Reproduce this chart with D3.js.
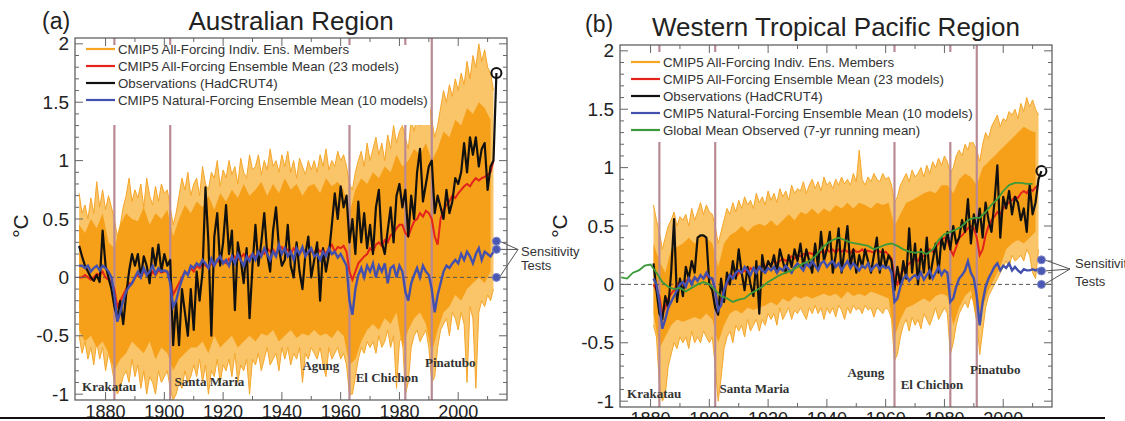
<!DOCTYPE html>
<html>
<head>
<meta charset="utf-8">
<script src="https://cdn.jsdelivr.net/npm/d3@7"></script>
<style>
  body { margin: 0; background: #fff; }
  svg { display: block; }
</style>
</head>
<body>
<svg id="chart" width="1125" height="421"></svg>
<script>
// ---- shared axis values ----
const xDomain = [1869.6, 2016.6];
const yDomain = [-1.05, 2.05];
const xMajorTicks = [1880, 1900, 1920, 1940, 1960, 1980, 2000];
const yMajorTicks = [-1, -0.5, 0, 0.5, 1, 1.5, 2];

const volcanoes = ["Krakatau", "Santa Maria", "Agung", "El Chichon", "Pinatubo"];
const volcanoYears = [1883, 1902, 1963, 1982, 1991];
// label anchor (year, value of baseline)
const volcanoLabelYears = [1872.0, 1903.5, 1947.0, 1965.1, 1988.7];
const volcanoLabelVals = [-0.97, -0.93, -0.79, -0.90, -0.77];

const legendNames = [
  "CMIP5 All-Forcing Indiv. Ens. Members",
  "CMIP5 All-Forcing Ensemble Mean (23 models)",
  "Observations (HadCRUT4)",
  "CMIP5 Natural-Forcing Ensemble Mean (10 models)",
  "Global Mean Observed (7-yr running mean)"
];
const legendColors = ["#F7A623", "#E3231C", "#111111", "#4450AD", "#3C9A3A"];

// ---- (a) Australian Region ----
const obsStartA = 1871, modelStartA = 1871;
const obsA = [
  0.27, 0.18, 0.10, 0.05, 0.00, -0.03, 0.02, -0.04, 0.40, 0.10,
  0.00, -0.10, -0.25, -0.35, -0.20, -0.40, -0.15, 0.05, 0.20, 0.10,
  0.20, 0.00, 0.18, 0.10, -0.05, 0.25, 0.10, 0.28, 0.05, 0.20,
  0.10, 0.15, -0.58, -0.20, -0.58, -0.10, -0.30, -0.50, -0.10, -0.45,
  0.05, -0.20, 0.05, 0.77, 0.30, -0.50, 0.35, 0.55, 0.10, 0.30,
  0.62, 0.20, 0.40, -0.28, 0.30, 0.15, -0.05, 0.25, -0.35, 0.10,
  0.45, 0.10, 0.30, 0.55, 0.20, 0.05, 0.40, 0.60, 0.25, 0.10,
  0.15, 0.45, 0.10, 0.00, 0.30, 0.05, -0.10, 0.20, 0.35, 0.00,
  0.15, 0.30, -0.20, 0.25, 0.05, 0.20, 0.45, 0.72, 0.50, 0.78,
  0.60, 0.70, 0.30, 0.50, 0.20, 0.65, 0.30, 0.55, 0.25, 0.45,
  0.20, 0.60, 0.75, 0.30, 0.20, 0.40, 0.60, 0.30, 0.70, 0.80,
  0.60, 0.75, 0.35, 0.70, 0.50, 0.90, 1.10, 0.65, 0.80, 0.95,
  1.00, 0.55, 0.70, 0.60, 0.50, 0.75, 0.55, 0.65, 0.85, 0.80,
  0.90, 1.15, 0.90, 1.20, 1.05, 1.20, 0.95, 1.10, 1.15, 0.75,
  0.95, 1.00, 1.75
];
const allMeanA = [
  0.00, 0.00, 0.02, 0.00, -0.02, 0.00, 0.03, 0.02, 0.05, 0.00,
  -0.02, -0.05, -0.10, -0.25, -0.20, -0.15, -0.10, -0.05, -0.05, 0.00,
  0.02, 0.00, 0.05, 0.03, 0.00, 0.05, 0.02, 0.06, 0.04, 0.05,
  0.05, 0.00, -0.15, -0.10, -0.05, 0.00, 0.05, 0.03, 0.08, 0.05,
  0.10, 0.08, 0.12, 0.10, 0.08, 0.12, 0.10, 0.15, 0.12, 0.14,
  0.12, 0.16, 0.14, 0.18, 0.15, 0.17, 0.20, 0.15, 0.18, 0.20,
  0.18, 0.20, 0.22, 0.20, 0.25, 0.22, 0.24, 0.20, 0.25, 0.26,
  0.22, 0.24, 0.20, 0.25, 0.22, 0.20, 0.24, 0.22, 0.20, 0.23,
  0.20, 0.25, 0.22, 0.24, 0.20, 0.25, 0.28, 0.22, 0.26, 0.25,
  0.27, 0.22, 0.05, -0.02, 0.05, 0.12, 0.15, 0.18, 0.20, 0.25,
  0.22, 0.28, 0.30, 0.27, 0.32, 0.30, 0.36, 0.38, 0.42, 0.45,
  0.45, 0.38, 0.35, 0.42, 0.48, 0.50, 0.55, 0.52, 0.57, 0.55,
  0.50, 0.35, 0.28, 0.50, 0.58, 0.62, 0.65, 0.70, 0.68, 0.72,
  0.75, 0.78, 0.80, 0.78, 0.82, 0.85, 0.83, 0.85, 0.86, 0.88,
  0.90, 1.00
];
const natMeanA = [
  0.10, 0.10, 0.08, 0.10, 0.05, 0.08, 0.10, 0.06, 0.10, 0.08,
  0.05, 0.00, -0.15, -0.38, -0.30, -0.20, -0.12, -0.08, -0.05, 0.00,
  0.05, 0.00, 0.08, 0.02, 0.05, 0.10, 0.03, 0.08, 0.05, 0.06,
  0.05, -0.05, -0.25, -0.20, -0.10, -0.02, 0.05, 0.02, 0.10, 0.08,
  0.12, 0.10, 0.15, 0.12, 0.08, 0.16, 0.10, 0.15, 0.18, 0.12,
  0.15, 0.10, 0.18, 0.12, 0.20, 0.15, 0.10, 0.18, 0.14, 0.20,
  0.15, 0.22, 0.18, 0.25, 0.20, 0.15, 0.22, 0.18, 0.28, 0.20,
  0.25, 0.18, 0.22, 0.15, 0.25, 0.20, 0.26, 0.18, 0.22, 0.25,
  0.18, 0.20, 0.15, 0.22, 0.18, 0.25, 0.20, 0.22, 0.17, 0.20,
  0.15, 0.10, -0.20, -0.32, -0.10, 0.02, 0.08, 0.00, 0.10, 0.05,
  0.12, 0.00, 0.10, 0.05, 0.12, -0.05, 0.08, 0.10, 0.00, 0.10,
  0.05, -0.12, -0.20, -0.05, 0.02, 0.08, 0.00, 0.10, 0.05, 0.02,
  -0.10, -0.30, -0.15, -0.05, 0.05, 0.10, 0.08, 0.12, 0.15, 0.12,
  0.20, 0.15, 0.22, 0.18, 0.12, 0.20, 0.25, 0.15, 0.22, 0.20,
  0.18, 0.22
];
const ensMaxA = [
  0.72, 0.55, 0.62, 0.50, 0.68, 0.55, 0.82, 0.60, 0.75, 0.58,
  0.70, 0.60, 0.50, 0.35, 0.45, 0.60, 0.70, 0.85, 0.65, 0.75,
  0.68, 0.80, 0.60, 0.85, 0.70, 0.62, 0.78, 0.65, 0.80, 0.72,
  0.75, 0.60, 0.45, 0.55, 0.70, 0.85, 0.75, 0.90, 0.70, 0.80,
  0.85, 0.70, 0.95, 0.80, 0.75, 0.90, 0.85, 1.00, 0.78, 0.92,
  0.85, 1.00, 0.88, 0.95, 0.80, 1.02, 0.90, 0.85, 1.05, 0.92,
  0.95, 1.05, 0.88, 1.00, 0.92, 1.10, 0.95, 1.00, 0.90, 1.05,
  0.95, 1.08, 0.90, 1.00, 0.85, 1.02, 0.95, 0.88, 1.00, 0.92,
  1.00, 0.90, 1.05, 0.95, 1.10, 0.92, 1.00, 0.95, 1.08, 1.00,
  1.05, 0.95, 0.80, 0.75, 0.90, 1.00, 1.08, 0.95, 1.15, 1.00,
  1.10, 1.20, 1.05, 1.15, 1.00, 1.22, 1.10, 1.30, 1.15, 1.25,
  1.30, 1.20, 1.10, 1.35, 1.25, 1.40, 1.30, 1.45, 1.35, 1.50,
  1.35, 1.20, 1.30, 1.45, 1.60, 1.50, 1.65, 1.55, 1.70, 1.60,
  1.75, 1.65, 1.85, 1.70, 1.90, 1.80, 2.00, 1.85, 1.95, 1.80,
  1.75, 1.60
];
const ensMinA = [
  -0.50, -0.65, -0.55, -0.70, -0.60, -0.75, -0.55, -0.70, -0.60, -0.80,
  -0.65, -0.75, -0.90, -1.00, -0.95, -0.85, -0.80, -0.90, -0.70, -0.85,
  -0.75, -0.95, -0.80, -1.00, -0.85, -0.90, -1.00, -0.80, -0.90, -0.85,
  -0.80, -0.95, -1.05, -1.00, -0.90, -0.95, -0.80, -0.90, -0.85, -0.75,
  -0.85, -0.70, -0.90, -0.75, -1.00, -0.80, -0.85, -0.70, -0.90, -0.75,
  -0.80, -0.70, -0.85, -0.65, -0.90, -0.75, -0.80, -0.70, -1.00, -0.70,
  -0.75, -0.65, -0.80, -0.70, -0.60, -0.75, -0.70, -0.65, -0.80, -0.60,
  -0.70, -0.60, -0.75, -0.65, -0.70, -0.60, -0.90, -0.65, -0.70, -0.60,
  -0.65, -0.70, -0.60, -0.75, -0.85, -0.60, -0.70, -0.65, -0.60, -0.70,
  -0.65, -0.75, -1.00, -1.00, -0.85, -0.70, -0.60, -0.65, -0.55, -0.60,
  -0.55, -0.65, -0.50, -0.60, -0.55, -0.45, -0.60, -0.50, -0.95, -0.55,
  -0.50, -1.00, -0.90, -0.60, -0.50, -0.45, -0.55, -0.50, -0.45, -0.60,
  -0.90, -0.85, -0.60, -0.45, -0.40, -0.35, -0.50, -0.30, -0.35, -0.45,
  -0.30, -0.40, -0.90, -0.25, -0.35, -0.95, -0.30, -0.20, -0.25, -0.15,
  -0.20, -0.10
];
// denser core of the ensemble, every second year from 1871
const coreHiA = [
  0.45, 0.38, 0.50, 0.42, 0.55, 0.30, 0.25, 0.45, 0.55, 0.50,
  0.48, 0.60, 0.45, 0.55, 0.50, 0.58, 0.35, 0.50, 0.62, 0.55,
  0.65, 0.60, 0.70, 0.58, 0.72, 0.65, 0.75, 0.68, 0.80, 0.70,
  0.75, 0.82, 0.70, 0.80, 0.72, 0.85, 0.75, 0.80, 0.70, 0.78,
  0.80, 0.72, 0.85, 0.78, 0.82, 0.75, 0.55, 0.75, 0.85, 0.80,
  0.90, 0.85, 0.95, 0.90, 1.05, 0.95, 1.00, 1.10, 1.05, 1.15,
  1.00, 1.10, 1.25, 1.20, 1.35, 1.30, 1.45, 1.40, 1.50, 1.45, 1.35
];
const coreLoA = [
  -0.45, -0.55, -0.50, -0.60, -0.55, -0.65, -0.80, -0.70, -0.65, -0.55,
  -0.60, -0.65, -0.55, -0.70, -0.60, -0.65, -0.80, -0.70, -0.65, -0.60,
  -0.60, -0.55, -0.65, -0.50, -0.60, -0.55, -0.50, -0.60, -0.55, -0.50,
  -0.55, -0.48, -0.50, -0.45, -0.55, -0.50, -0.45, -0.52, -0.48, -0.50,
  -0.45, -0.50, -0.48, -0.52, -0.45, -0.50, -0.75, -0.70, -0.55, -0.45,
  -0.40, -0.45, -0.35, -0.40, -0.30, -0.60, -0.45, -0.35, -0.30, -0.40,
  -0.65, -0.45, -0.30, -0.25, -0.15, -0.20, -0.10, -0.05, 0.00, -0.05, 0.05
];
const sensA = [0.31, 0.24, 0.0];

// ---- (b) Western Tropical Pacific Region ----
const obsStartB = 1881, modelStartB = 1881, globalStartB = 1870;
const obsB = [
  0.18, -0.05, -0.25, -0.30, -0.10, -0.20, 0.10, 0.56, -0.15, 0.05,
  -0.10, 0.15, 0.05, 0.20, 0.10, 0.40, 0.42, 0.42, 0.40, 0.00,
  -0.05, -0.20, -0.26, 0.05, -0.15, 0.10, 0.00, 0.20, 0.05, 0.30,
  0.10, -0.05, 0.15, 0.00, -0.10, 0.20, -0.25, 0.25, 0.10, 0.20,
  0.15, 0.25, 0.10, 0.30, 0.20, 0.10, 0.25, 0.15, 0.30, 0.20,
  0.35, 0.15, 0.30, 0.20, 0.10, 0.35, 0.15, 0.45, 0.20, 0.30,
  0.45, 0.10, 0.25, 0.48, 0.10, 0.30, 0.50, 0.15, 0.30, 0.10,
  0.25, 0.15, 0.30, 0.20, 0.10, 0.25, 0.40, 0.10, 0.30, 0.15,
  0.25, 0.20, -0.05, 0.15, 0.00, 0.20, 0.05, 0.48, 0.10, 0.35,
  0.00, 0.30, 0.10, 0.40, 0.05, 0.20, 0.35, 0.10, 0.40, 0.30,
  0.45, 0.30, 0.50, 0.35, 0.40, 0.55, 0.45, 0.73, 0.35, 0.60,
  0.45, 0.65, 0.40, 0.70, 0.55, 0.45, 0.70, 1.02, 0.40, 0.75,
  0.65, 0.80, 0.60, 0.75, 0.70, 0.55, 0.65, 0.45, 0.85, 0.60,
  0.70, 0.90, 0.97
];
const allMeanB = [
  0.00, -0.05, -0.10, -0.25, -0.20, -0.12, -0.08, -0.05, 0.00, 0.02,
  0.00, 0.03, 0.05, 0.02, 0.06, 0.04, 0.07, 0.05, 0.08, 0.05,
  0.05, -0.05, -0.20, -0.12, -0.05, 0.00, 0.05, 0.08, 0.06, 0.10,
  0.10, 0.12, 0.10, 0.14, 0.12, 0.15, 0.13, 0.16, 0.15, 0.18,
  0.17, 0.20, 0.18, 0.20, 0.22, 0.20, 0.22, 0.24, 0.22, 0.25,
  0.24, 0.26, 0.25, 0.27, 0.26, 0.28, 0.26, 0.28, 0.27, 0.30,
  0.28, 0.30, 0.27, 0.30, 0.28, 0.30, 0.28, 0.27, 0.30, 0.28,
  0.28, 0.30, 0.27, 0.29, 0.28, 0.27, 0.30, 0.28, 0.27, 0.28,
  0.25, 0.22, 0.05, 0.00, 0.08, 0.12, 0.15, 0.18, 0.20, 0.22,
  0.20, 0.25, 0.24, 0.28, 0.30, 0.28, 0.32, 0.35, 0.38, 0.40,
  0.38, 0.30, 0.25, 0.32, 0.40, 0.42, 0.45, 0.48, 0.50, 0.48,
  0.40, 0.25, 0.30, 0.42, 0.50, 0.55, 0.58, 0.62, 0.60, 0.65,
  0.68, 0.70, 0.72, 0.75, 0.74, 0.78, 0.80, 0.78, 0.82, 0.80,
  0.83, 0.85
];
const natMeanB = [
  0.05, 0.00, -0.15, -0.38, -0.30, -0.20, -0.15, -0.10, -0.05, 0.00,
  0.02, -0.02, 0.05, 0.00, 0.06, 0.03, 0.08, 0.05, 0.10, 0.06,
  0.05, -0.05, -0.22, -0.18, -0.05, 0.02, 0.08, 0.05, 0.10, 0.12,
  0.10, 0.15, 0.12, 0.08, 0.14, 0.10, 0.15, 0.12, 0.10, 0.14,
  0.12, 0.15, 0.10, 0.14, 0.12, 0.16, 0.13, 0.10, 0.15, 0.18,
  0.15, 0.12, 0.18, 0.15, 0.20, 0.16, 0.12, 0.18, 0.20, 0.15,
  0.18, 0.20, 0.15, 0.18, 0.12, 0.16, 0.20, 0.14, 0.18, 0.15,
  0.12, 0.16, 0.14, 0.18, 0.12, 0.15, 0.17, 0.13, 0.16, 0.14,
  0.15, 0.10, -0.15, -0.12, -0.02, 0.05, 0.08, 0.03, 0.06, 0.08,
  0.05, 0.10, 0.04, 0.08, 0.12, 0.05, 0.10, 0.15, 0.08, 0.12,
  0.10, -0.15, -0.12, -0.02, 0.05, 0.08, 0.12, 0.20, 0.10, 0.05,
  -0.10, -0.35, -0.15, -0.02, 0.05, 0.10, 0.15, 0.18, 0.12, 0.16,
  0.14, 0.18, 0.12, 0.15, 0.12, 0.10, 0.13, 0.12, 0.12, 0.13,
  0.12, 0.13
];
const ensMaxB = [
  0.68, 0.55, 0.45, 0.30, 0.40, 0.50, 0.55, 0.62, 0.50, 0.58,
  0.55, 0.60, 0.50, 0.65, 0.55, 0.62, 0.70, 0.60, 0.68, 0.62,
  0.60, 0.50, 0.35, 0.45, 0.55, 0.65, 0.60, 0.70, 0.62, 0.72,
  0.65, 0.75, 0.68, 0.72, 0.65, 0.78, 0.70, 0.75, 0.68, 0.80,
  0.72, 0.78, 0.70, 0.82, 0.75, 0.80, 0.72, 0.85, 0.78, 0.82,
  0.80, 0.88, 0.78, 0.85, 0.90, 0.82, 0.88, 0.80, 0.92, 0.85,
  0.88, 0.82, 0.90, 0.85, 0.92, 0.86, 0.90, 0.85, 0.95, 0.88,
  1.15, 0.90, 0.85, 0.92, 0.88, 0.95, 0.90, 0.88, 0.95, 0.90,
  0.92, 0.85, 0.70, 0.75, 0.85, 0.90, 0.95, 0.88, 0.98, 0.92,
  0.95, 1.00, 0.92, 1.02, 0.95, 1.05, 1.00, 1.08, 1.02, 1.10,
  1.05, 0.95, 1.00, 1.10, 1.15, 1.10, 1.20, 1.15, 1.25, 1.20,
  1.15, 1.05, 1.20, 1.30, 1.25, 1.35, 1.40, 1.45, 1.35, 1.42,
  1.40, 1.48, 1.45, 1.50, 1.42, 1.55, 1.48, 1.60, 1.52, 1.58,
  1.50, 1.45
];
const ensMinB = [
  -0.35, -0.45, -0.85, -1.00, -0.95, -0.70, -0.60, -0.50, -0.55, -0.45,
  -0.50, -0.45, -0.55, -0.40, -0.50, -0.45, -0.50, -0.40, -0.45, -0.50,
  -0.45, -0.70, -1.00, -0.80, -0.55, -0.45, -0.40, -0.50, -0.35, -0.40,
  -0.35, -0.45, -0.30, -0.40, -0.35, -0.30, -0.40, -0.30, -0.35, -0.25,
  -0.30, -0.25, -0.35, -0.20, -0.30, -0.25, -0.20, -0.30, -0.22, -0.25,
  -0.20, -0.25, -0.30, -0.20, -0.25, -0.18, -0.25, -0.20, -0.30, -0.20,
  -0.25, -0.20, -0.28, -0.18, -0.22, -0.30, -0.20, -0.25, -0.18, -0.22,
  -0.20, -0.25, -0.18, -0.22, -0.20, -0.28, -0.20, -0.22, -0.25, -0.20,
  -0.22, -0.30, -0.65, -0.60, -0.45, -0.35, -0.30, -0.40, -0.28, -0.35,
  -0.30, -0.38, -0.25, -0.30, -0.35, -0.28, -0.20, -0.30, -0.25, -0.20,
  -0.25, -0.60, -0.50, -0.35, -0.25, -0.20, -0.15, -0.20, -0.10, -0.15,
  -0.30, -0.60, -0.40, -0.20, -0.10, -0.05, 0.00, 0.05, 0.10, 0.15,
  0.20, 0.15, 0.25, 0.20, 0.22, 0.25, 0.20, 0.30, 0.25, 0.10,
  0.05, 0.30
];
// denser core of the ensemble, every second year from 1881
const coreHiB = [
  0.35, 0.20, 0.10, 0.30, 0.32, 0.35, 0.40, 0.35, 0.42, 0.40,
  0.35, 0.15, 0.35, 0.42, 0.45, 0.50, 0.45, 0.50, 0.52, 0.50,
  0.55, 0.50, 0.55, 0.60, 0.55, 0.62, 0.60, 0.65, 0.60, 0.65,
  0.62, 0.68, 0.65, 0.70, 0.65, 0.70, 0.68, 0.65, 0.70, 0.68,
  0.70, 0.50, 0.60, 0.70, 0.72, 0.75, 0.78, 0.80, 0.78, 0.85,
  0.85, 0.78, 0.90, 0.95, 0.92, 0.85, 1.00, 1.05, 1.10, 1.15,
  1.20, 1.25, 1.30, 1.35, 1.32, 1.30
];
const coreLoB = [
  -0.25, -0.55, -0.45, -0.35, -0.30, -0.32, -0.30, -0.28, -0.30, -0.25,
  -0.30, -0.50, -0.35, -0.25, -0.22, -0.25, -0.20, -0.22, -0.20, -0.18,
  -0.15, -0.18, -0.12, -0.15, -0.10, -0.12, -0.10, -0.12, -0.10, -0.08,
  -0.10, -0.08, -0.12, -0.06, -0.10, -0.08, -0.10, -0.06, -0.08, -0.10,
  -0.12, -0.45, -0.30, -0.20, -0.18, -0.15, -0.12, -0.15, -0.10, -0.08,
  -0.10, -0.35, -0.20, -0.10, -0.05, -0.35, -0.20, -0.05, 0.05, 0.15,
  0.30, 0.35, 0.38, 0.35, 0.40, 0.45
];
// global mean, 7-yr running mean, every second year from 1870
const globalB = [
  0.06, 0.05, 0.10, 0.12, 0.16, 0.17, 0.10, 0.02, -0.02, -0.04,
  -0.03, -0.06, -0.03, 0.00, 0.02, 0.00, -0.05, -0.10, -0.12, -0.15,
  -0.13, -0.12, -0.08, -0.05, -0.02, 0.02, 0.05, 0.08, 0.10, 0.12,
  0.15, 0.18, 0.20, 0.24, 0.30, 0.35, 0.38, 0.40, 0.38, 0.36,
  0.35, 0.34, 0.33, 0.30, 0.32, 0.34, 0.35, 0.33, 0.30, 0.28,
  0.27, 0.28, 0.26, 0.30, 0.38, 0.43, 0.45, 0.47, 0.50, 0.55,
  0.57, 0.57, 0.62, 0.68, 0.73, 0.80, 0.85, 0.87, 0.87, 0.86, 0.86
];
const sensB = [0.21, 0.115, 0.0];

// ---- layout ----
const panels = [
  {
    id: "a", tag: "(a)", title: "Australian Region",
    left: 75, right: 507, top: 38, bottom: 400,
    tagX: 42, tagY: 29, titleY: 30,
    unitX: 21, unitY: 226,
    legendRight: 430, legendBottom: 125, legendRow0: 49, legendStep: 17,
    vertex: [518, 249.5], sensText: [521, 256, 270],
    obsStart: obsStartA, obs: obsA, modelStart: modelStartA,
    allMean: allMeanA, natMean: natMeanA, ensMax: ensMaxA, ensMin: ensMinA,
    coreHi: coreHiA, coreLo: coreLoA, sens: sensA, nLegend: 4
  },
  {
    id: "b", tag: "(b)", title: "Western Tropical Pacific Region",
    left: 620, right: 1052, top: 45, bottom: 407,
    tagX: 585, tagY: 32, titleY: 36,
    unitX: 560, unitY: 226,
    legendRight: 974, legendBottom: 142, legendRow0: 62, legendStep: 17,
    vertex: [1070, 269], sensText: [1075, 268, 286],
    obsStart: obsStartB, obs: obsB, modelStart: modelStartB,
    allMean: allMeanB, natMean: natMeanB, ensMax: ensMaxB, ensMin: ensMinB,
    coreHi: coreHiB, coreLo: coreLoB, sens: sensB, nLegend: 5,
    globalStart: globalStartB, global: globalB
  }
];

const svg = d3.select("#chart");
const defs = svg.append("defs");
const sans = "'Liberation Sans', Arial, Helvetica, sans-serif";
const serif = "'Liberation Serif', 'Times New Roman', serif";

panels.forEach(p => {
  const x = d3.scaleLinear().domain(xDomain).range([p.left, p.right]);
  const y = d3.scaleLinear().domain(yDomain).range([p.bottom, p.top]);
  const g = svg.append("g");

  defs.append("clipPath").attr("id", "clip-" + p.id)
    .append("rect").attr("x", p.left).attr("y", p.top)
    .attr("width", p.right - p.left).attr("height", p.bottom - p.top);
  const plot = g.append("g").attr("clip-path", `url(#clip-${p.id})`);

  const line = d3.line().x(d => x(d[0])).y(d => y(d[1]));
  const series = (start, vals, step = 1) => vals.map((v, i) => [start + i * step, v]);

  // ensemble spread: outer envelope then the dense core
  const env = p.ensMax.map((v, i) => ({ yr: p.modelStart + i, hi: v, lo: p.ensMin[i] }));
  const core = p.coreHi.map((v, i) => ({ yr: p.modelStart + 2 * i, hi: v, lo: p.coreLo[i] }));
  const area = d3.area().x(d => x(d.yr)).y0(d => y(d.lo)).y1(d => y(d.hi));

  plot.append("path").datum(env).attr("d", area)
    .attr("fill", "#F9BA4E").attr("fill-opacity", 0.85);
  plot.append("path").datum(series(p.modelStart, p.ensMax)).attr("d", line)
    .attr("fill", "none").attr("stroke", "#F5A62A").attr("stroke-width", 1);
  plot.append("path").datum(series(p.modelStart, p.ensMin)).attr("d", line)
    .attr("fill", "none").attr("stroke", "#F5A62A").attr("stroke-width", 1);
  plot.append("path").datum(core).attr("d", area).attr("fill", "#F6A01A");

  // volcano eruptions
  plot.selectAll(".volc").data(volcanoYears).join("line")
    .attr("x1", d => x(d)).attr("x2", d => x(d))
    .attr("y1", p.top).attr("y2", p.bottom)
    .attr("stroke", "#B98A93").attr("stroke-width", 2.2);

  // legend
  g.append("rect")
    .attr("x", p.left + 2).attr("y", p.top + 7)
    .attr("width", p.legendRight - p.left - 2).attr("height", p.legendBottom - p.top - 7)
    .attr("fill", "#fff");
  const leg = g.selectAll(".leg").data(legendNames.slice(0, p.nLegend)).join("g")
    .attr("transform", (d, i) => `translate(0,${p.legendRow0 + i * p.legendStep})`);
  leg.append("line").attr("x1", p.left + 11).attr("x2", p.left + 40)
    .attr("stroke", (d, i) => legendColors[i]).attr("stroke-width", 2.2);
  leg.append("text").attr("x", p.left + 43).attr("dy", "0.35em")
    .attr("font-family", sans).attr("font-size", 13.3).attr("fill", "#333")
    .text(d => d);

  // zero line
  plot.append("line").attr("x1", p.left).attr("x2", p.right)
    .attr("y1", y(0)).attr("y2", y(0))
    .attr("stroke", "#555").attr("stroke-width", 1).attr("stroke-dasharray", "4,3");

  // mean curves
  plot.append("path").datum(series(p.modelStart, p.allMean)).attr("d", line)
    .attr("fill", "none").attr("stroke", legendColors[1]).attr("stroke-width", 2);
  plot.append("path").datum(series(p.obsStart, p.obs)).attr("d", line)
    .attr("fill", "none").attr("stroke", legendColors[2]).attr("stroke-width", 2.2)
    .attr("stroke-linejoin", "round");
  plot.append("path").datum(series(p.modelStart, p.natMean)).attr("d", line)
    .attr("fill", "none").attr("stroke", legendColors[3]).attr("stroke-width", 2.4);
  if (p.global) {
    plot.append("path").datum(series(p.globalStart, p.global, 2)).attr("d", line)
      .attr("fill", "none").attr("stroke", legendColors[4]).attr("stroke-width", 1.8);
  }

  // observed last year
  const lastYr = p.obsStart + p.obs.length - 1;
  g.append("circle").attr("cx", x(lastYr)).attr("cy", y(p.obs[p.obs.length - 1]))
    .attr("r", 5).attr("fill", "none").attr("stroke", "#111").attr("stroke-width", 2);

  // sensitivity tests
  const [vx, vy] = p.vertex;
  p.sens.forEach(v => {
    g.append("line").attr("x1", x(lastYr) + 3).attr("y1", y(v)).attr("x2", vx).attr("y2", vy)
      .attr("stroke", "#555").attr("stroke-width", 1);
  });
  g.selectAll(".sens").data(p.sens).join("circle")
    .attr("cx", x(lastYr)).attr("cy", d => y(d)).attr("r", 4)
    .attr("fill", "#4A58B4").attr("stroke", "#7C86C8").attr("stroke-width", 1);
  g.append("text").attr("x", p.sensText[0]).attr("y", p.sensText[1])
    .attr("font-family", sans).attr("font-size", 13).attr("fill", "#333").text("Sensitivity");
  g.append("text").attr("x", p.sensText[0]).attr("y", p.sensText[2])
    .attr("font-family", sans).attr("font-size", 13).attr("fill", "#333").text("Tests");

  // volcano names
  g.selectAll(".vname").data(volcanoes).join("text")
    .attr("x", (d, i) => x(volcanoLabelYears[i]))
    .attr("y", (d, i) => y(volcanoLabelVals[i]))
    .attr("font-family", serif).attr("font-weight", "bold").attr("font-size", 13)
    .attr("fill", "#333").text(d => d);

  // frame and ticks
  g.append("rect").attr("x", p.left).attr("y", p.top)
    .attr("width", p.right - p.left).attr("height", p.bottom - p.top)
    .attr("fill", "none").attr("stroke", "#555").attr("stroke-width", 1.2);

  const xMinor = d3.range(1880, 2011, 10);
  const yMinor = d3.range(-10, 21).map(d => d / 10);
  const tickGroup = g.append("g").attr("stroke", "#666").attr("stroke-width", 1);
  xMinor.forEach(t => {
    const len = xMajorTicks.includes(t) ? 8 : 4;
    tickGroup.append("line").attr("x1", x(t)).attr("x2", x(t)).attr("y1", p.bottom).attr("y2", p.bottom - len);
    tickGroup.append("line").attr("x1", x(t)).attr("x2", x(t)).attr("y1", p.top).attr("y2", p.top + len);
  });
  yMinor.forEach(t => {
    const len = Math.abs(t * 2 - Math.round(t * 2)) < 1e-6 ? 8 : 4;
    tickGroup.append("line").attr("x1", p.left).attr("x2", p.left + len).attr("y1", y(t)).attr("y2", y(t));
    tickGroup.append("line").attr("x1", p.right).attr("x2", p.right - len).attr("y1", y(t)).attr("y2", y(t));
  });

  g.selectAll(".xl").data(xMajorTicks).join("text")
    .attr("x", d => x(d)).attr("y", p.bottom + 18).attr("text-anchor", "middle")
    .attr("font-family", sans).attr("font-size", 18).attr("fill", "#222").text(d => d);
  g.selectAll(".yl").data(yMajorTicks).join("text")
    .attr("x", p.left - 6).attr("y", d => y(d)).attr("dy", "0.35em").attr("text-anchor", "end")
    .attr("font-family", sans).attr("font-size", 19).attr("fill", "#222").text(d => d);

  g.append("text")
    .attr("transform", `translate(${p.unitX},${p.unitY}) rotate(-90)`)
    .attr("text-anchor", "middle").attr("dy", "0.35em")
    .attr("font-family", sans).attr("font-size", 21).attr("fill", "#222").text("°C");

  // titles
  g.append("text").attr("x", p.tagX).attr("y", p.tagY)
    .attr("font-family", sans).attr("font-size", 23).attr("fill", "#222").text(p.tag);
  g.append("text").attr("x", (p.left + p.right) / 2).attr("y", p.titleY).attr("text-anchor", "middle")
    .attr("font-family", sans).attr("font-size", 26).attr("fill", "#222").text(p.title);
});

// cropping edge at the bottom of the figure
svg.append("rect").attr("x", 0).attr("y", 418).attr("width", 1125).attr("height", 3).attr("fill", "#fff");
svg.append("line").attr("x1", 0).attr("x2", 1105).attr("y1", 418).attr("y2", 418)
  .attr("stroke", "#111").attr("stroke-width", 2);
</script>
</body>
</html>
